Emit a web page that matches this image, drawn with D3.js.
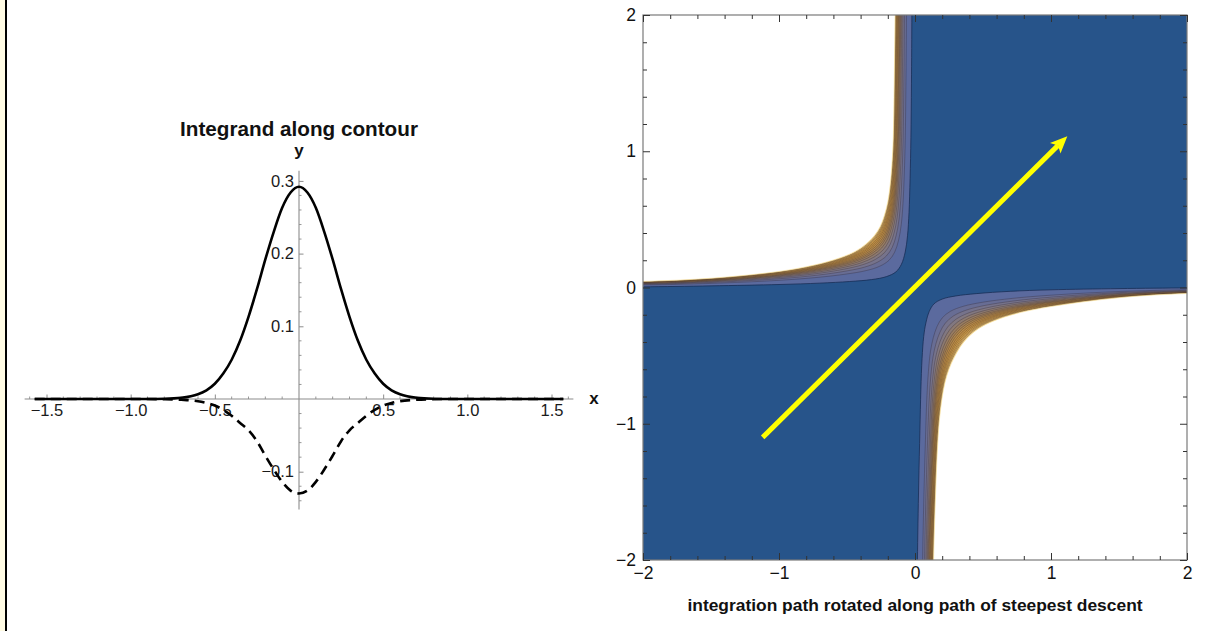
<!DOCTYPE html>
<html><head><meta charset="utf-8">
<script src="https://cdn.jsdelivr.net/npm/d3@7"></script>
<style>
body{margin:0;background:#fff}
svg{display:block}
text{font-family:"Liberation Sans",Arial,sans-serif}
</style>
</head><body>
<svg id="c" width="1227" height="631"></svg>
<script>
// ---------------- DATA ----------------
// Left panel: integrand along the contour (real part solid, imaginary part dashed)
const integrandX = [-1.57,-1.2,-1.0,-0.9,-0.8,-0.7,-0.6,-0.55,-0.5,-0.45,-0.4,-0.35,-0.3,-0.25,-0.2,-0.15,-0.1,-0.05,
  0,0.05,0.1,0.15,0.2,0.25,0.3,0.35,0.4,0.45,0.5,0.55,0.6,0.7,0.8,0.9,1.0,1.2,1.57];
const realPart = [0,0,0,0,0.0003,0.0017,0.0066,0.012,0.021,0.035,0.054,0.080,0.113,0.151,0.192,0.230,0.263,0.284,
  0.292,0.284,0.263,0.230,0.192,0.151,0.113,0.080,0.054,0.035,0.021,0.012,0.0066,0.0017,0.0003,0,0,0,0];
const imagPart = [0,0,0,0,-0.0003,-0.001,-0.003,-0.0055,-0.009,-0.015,-0.023,-0.033,-0.043,-0.058,-0.078,-0.097,-0.114,-0.126,
  -0.130,-0.126,-0.114,-0.097,-0.078,-0.058,-0.043,-0.033,-0.023,-0.015,-0.009,-0.0055,-0.003,-0.001,-0.0003,0,0,0,0];
const leftXTicks = [-1.5,-1.0,-0.5,0.5,1.0,1.5];
const leftXTickLabels = ["\u22121.5","\u22121.0","\u22120.5","0.5","1.0","1.5"];
const leftYTicks = [-0.1,0.1,0.2,0.3];
const leftYTickLabels = ["\u22120.1","0.1","0.2","0.3"];
const leftTitle = "Integrand along contour";

// Right panel: contour bands of |integrand| in the complex plane
// inner (dark-blue edge) and outer (white edge) boundaries of the upper-left lobe
const innerUL = [[-2.3,0.004],[-2.0,0.005],[-1.5,0.012],[-1.0,0.022],[-0.7,0.032],[-0.48,0.044],[-0.32,0.058],[-0.21,0.08],
  [-0.14,0.115],[-0.1,0.17],[-0.072,0.26],[-0.055,0.38],[-0.044,0.55],[-0.036,0.8],[-0.03,1.1],[-0.026,1.5],[-0.023,2.0],[-0.022,2.3]];
const outerUL = [[-2.3,0.04],[-2.0,0.045],[-1.5,0.068],[-1.0,0.118],[-0.74,0.165],[-0.56,0.215],[-0.44,0.265],[-0.36,0.32],
  [-0.3,0.38],[-0.255,0.45],[-0.225,0.53],[-0.2,0.63],[-0.183,0.75],[-0.17,0.9],[-0.16,1.1],[-0.153,1.5],[-0.147,2.0],[-0.145,2.3]];
// lower-right lobe
const innerLR = [[2.3,-0.002],[2.0,-0.003],[1.5,-0.008],[1.0,-0.017],[0.7,-0.028],[0.45,-0.045],[0.3,-0.062],[0.2,-0.085],
  [0.14,-0.12],[0.105,-0.175],[0.08,-0.26],[0.064,-0.36],[0.052,-0.52],[0.043,-0.75],[0.036,-1.05],[0.027,-1.45],[0.018,-2.0],[0.016,-2.3]];
const outerLR = [[2.3,-0.04],[2.0,-0.044],[1.5,-0.075],[1.0,-0.14],[0.75,-0.19],[0.58,-0.245],[0.47,-0.3],[0.39,-0.365],
  [0.33,-0.44],[0.285,-0.52],[0.25,-0.6],[0.22,-0.7],[0.198,-0.82],[0.18,-0.97],[0.167,-1.15],[0.152,-1.5],[0.137,-2.0],[0.134,-2.3]];
// relative positions of the contour levels across the band (0 = inner edge, 1 = outer edge)
const levelPositions = [0,0.32,0.44,0.53,0.6,0.66,0.71,0.75,0.79,0.83,0.865,0.895,0.925,0.95,0.975,1.0];
const bandColors = ["#5b6a9e","#686d94","#76738b","#827880","#8d7a70","#987d62","#a48157","#ae864e","#b98b48",
  "#c39145","#cb9845","#d3a04b","#d9a954","#e0b462","#ecca83"];
const lowColor = "#27548a";
const rightTicks = [-2,-1,0,1,2];
const rightTickLabels = ["\u22122","\u22121","0","1","2"];
const arrowStart = [-1.12,-1.10];
const arrowEnd = [1.12,1.11];
const rightXLabel = "integration path rotated along path of steepest descent";

// ---------------- DRAW ----------------
const svg = d3.select("#c");
const FONT = "'Liberation Sans', Arial, sans-serif";

// left frame strip
svg.append("rect").attr("x",0).attr("y",0).attr("width",5).attr("height",631).attr("fill","#fffbe3");
svg.append("rect").attr("x",5).attr("y",0).attr("width",2).attr("height",631).attr("fill","#000");

// ===== Left panel =====
const xL = d3.scaleLinear().domain([-1.5,1.5]).range([46.5,551.5]);
const yL = d3.scaleLinear().domain([-0.1,0.3]).range([471.7,180.9]);
const axisCol = "#8c8c8c";
const gL = svg.append("g");

gL.append("line").attr("x1",xL(-1.63)).attr("x2",xL(1.63)).attr("y1",yL(0)).attr("y2",yL(0))
  .attr("stroke",axisCol).attr("stroke-width",1.1);
gL.append("line").attr("x1",xL(0)).attr("x2",xL(0)).attr("y1",yL(0.314)).attr("y2",yL(-0.152))
  .attr("stroke",axisCol).attr("stroke-width",1.1);

const xMinor = d3.scaleLinear().domain([-1.6,1.6]).ticks(32).filter(v=>Math.abs(v)>1e-9 && Math.abs(v*2-Math.round(v*2))>1e-6);
gL.selectAll(".xm").data(xMinor).join("line")
  .attr("x1",d=>xL(d)).attr("x2",d=>xL(d)).attr("y1",yL(0)).attr("y2",yL(0)-2.5)
  .attr("stroke",axisCol).attr("stroke-width",0.9);
const yMinor = d3.scaleLinear().domain([-0.14,0.3]).ticks(22).filter(v=>Math.abs(v)>1e-9 && Math.abs(v*10-Math.round(v*10))>1e-6);
gL.selectAll(".ym").data(yMinor).join("line")
  .attr("x1",xL(0)).attr("x2",xL(0)+2.5).attr("y1",d=>yL(d)).attr("y2",d=>yL(d))
  .attr("stroke",axisCol).attr("stroke-width",0.9);

const axX = gL.append("g").attr("transform",`translate(0,${yL(0)})`)
  .call(d3.axisBottom(xL).tickValues(leftXTicks).tickFormat((d,i)=>leftXTickLabels[i]).tickSize(-4.5).tickPadding(5));
axX.attr("font-size",null).attr("font-family",null);
axX.select(".domain").remove();
axX.selectAll("line").attr("stroke",axisCol);
axX.selectAll("text").style("font-size","16.5px").style("font-family",FONT).attr("fill","#1a1a1a");
const axY = gL.append("g").attr("transform",`translate(${xL(0)},0)`)
  .call(d3.axisLeft(yL).tickValues(leftYTicks).tickFormat((d,i)=>leftYTickLabels[i]).tickSize(-4.5).tickPadding(5));
axY.attr("font-size",null).attr("font-family",null);
axY.select(".domain").remove();
axY.selectAll("line").attr("stroke",axisCol);
axY.selectAll("text").style("font-size","16.5px").style("font-family",FONT).attr("fill","#1a1a1a");

const pts = (ys)=>integrandX.map((x,i)=>[x,ys[i]]);
const lineL = d3.line().x(d=>xL(d[0])).y(d=>yL(d[1])).curve(d3.curveMonotoneX);
gL.append("path").attr("d",lineL(pts(imagPart))).attr("fill","none").attr("stroke","#000")
  .attr("stroke-width",2.6).attr("stroke-dasharray","10,6");
gL.append("path").attr("d",lineL(pts(realPart))).attr("fill","none").attr("stroke","#000")
  .attr("stroke-width",2.6);

gL.append("text").attr("x",xL(0)).attr("y",136).attr("text-anchor","middle")
  .style("font-size","20.7px").attr("font-weight","bold").attr("fill","#111").text(leftTitle);
gL.append("text").attr("x",xL(0)).attr("y",156).attr("text-anchor","middle")
  .style("font-size","17px").attr("font-weight","bold").attr("fill","#111").text("y");
gL.append("text").attr("x",594).attr("y",yL(0)+5).attr("text-anchor","middle")
  .style("font-size","17px").attr("font-weight","bold").attr("fill","#111").text("x");

// ===== Right panel =====
const xR = d3.scaleLinear().domain([-2,2]).range([643,1187]);
const yR = d3.scaleLinear().domain([-2,2]).range([560,15]);
const gR = svg.append("g");
svg.append("defs").append("clipPath").attr("id","clipR").append("rect")
  .attr("x",xR(-2)).attr("y",yR(2)).attr("width",xR(2)-xR(-2)).attr("height",yR(-2)-yR(2));
const plot = gR.append("g").attr("clip-path","url(#clipR)");
plot.append("rect").attr("x",xR(-2)).attr("y",yR(2)).attr("width",xR(2)-xR(-2)).attr("height",yR(-2)-yR(2)).attr("fill",lowColor);

const lineR = d3.line().x(d=>xR(d[0])).y(d=>yR(d[1])).curve(d3.curveCatmullRom.alpha(0.5));
function levelCurve(inner, outer, t){
  return inner.map((p,i)=>[p[0]+(outer[i][0]-p[0])*t, p[1]+(outer[i][1]-p[1])*t]);
}
function drawLobe(inner, outer, corner){
  levelPositions.forEach((t,k)=>{
    const c = levelCurve(inner, outer, t);
    const d = lineR(c) + `L${xR(corner[0])},${yR(c[c.length-1][1])}L${xR(corner[0])},${yR(corner[1])}L${xR(c[0][0])},${yR(corner[1])}Z`;
    plot.append("path").attr("d",d)
      .attr("fill", k < bandColors.length ? bandColors[k] : "#ffffff")
      .attr("stroke","none");
    plot.append("path").attr("d",lineR(c)).attr("fill","none")
      .attr("stroke", k===0 ? "rgba(20,40,80,0.8)" : (k===levelPositions.length-1 ? "rgba(250,225,150,0.9)" : "rgba(40,30,40,0.5)"))
      .attr("stroke-width", k===0 ? 0.9 : 0.6);
  });
}
drawLobe(innerUL, outerUL, [-3,3]);
drawLobe(innerLR, outerLR, [3,-3]);

// arrow
{
  const x1=xR(arrowStart[0]), y1=yR(arrowStart[1]), x2=xR(arrowEnd[0]), y2=yR(arrowEnd[1]);
  const a=Math.atan2(y2-y1,x2-x1), L=17, W=7.5, N=4;
  const ux=Math.cos(a), uy=Math.sin(a), px=-uy, py=ux;
  const bx=x2-ux*L, by=y2-uy*L;
  plot.append("line").attr("x1",x1).attr("y1",y1).attr("x2",bx+ux*N).attr("y2",by+uy*N)
    .attr("stroke","#ffff00").attr("stroke-width",5);
  plot.append("path").attr("d",`M${x2},${y2}L${bx+px*W},${by+py*W}L${bx+ux*N},${by+uy*N}L${bx-px*W},${by-py*W}Z`)
    .attr("fill","#ffff00");
}

// frame
const frameCol = "#7a7a7a";
gR.append("rect").attr("x",xR(-2)).attr("y",yR(2)).attr("width",xR(2)-xR(-2)).attr("height",yR(-2)-yR(2))
  .attr("fill","none").attr("stroke",frameCol).attr("stroke-width",1.2);
const rMinor = d3.scaleLinear().domain([-2,2]).ticks(20).filter(v=>Math.abs(v-Math.round(v))>1e-6);
const tickCol = "#333";
function ticksR(side){
  let ax;
  if(side==="bottom") ax=d3.axisBottom(xR);
  if(side==="top") ax=d3.axisTop(xR);
  if(side==="left") ax=d3.axisLeft(yR);
  if(side==="right") ax=d3.axisRight(yR);
  const tr = side==="bottom"?`translate(0,${yR(-2)})`:side==="top"?`translate(0,${yR(2)})`:side==="left"?`translate(${xR(-2)},0)`:`translate(${xR(2)},0)`;
  const labeled = side==="bottom"||side==="left";
  const gM = gR.append("g").attr("transform",tr)
    .call(ax.tickValues(rightTicks).tickSize(-7).tickPadding(side==="bottom"?7:7)
      .tickFormat(labeled?((d,i)=>rightTickLabels[i]):()=>""));
  gM.attr("font-size",null).attr("font-family",null);
  gM.select(".domain").remove();
  gM.selectAll("line").attr("stroke",tickCol);
  gM.selectAll("text").style("font-size","17.5px").style("font-family",FONT).attr("fill","#111");
  const gm = gR.append("g").attr("transform",tr)
    .call(ax.tickValues(rMinor).tickSize(-4).tickFormat(()=>""));
  gm.select(".domain").remove();
  gm.selectAll("line").attr("stroke",tickCol);
}
["bottom","top","left","right"].forEach(ticksR);

gR.append("text").attr("x",(xR(-2)+xR(2))/2).attr("y",611).attr("text-anchor","middle")
  .style("font-size","17.4px").attr("font-weight","bold").attr("fill","#111").text(rightXLabel);
</script>
</body></html>
